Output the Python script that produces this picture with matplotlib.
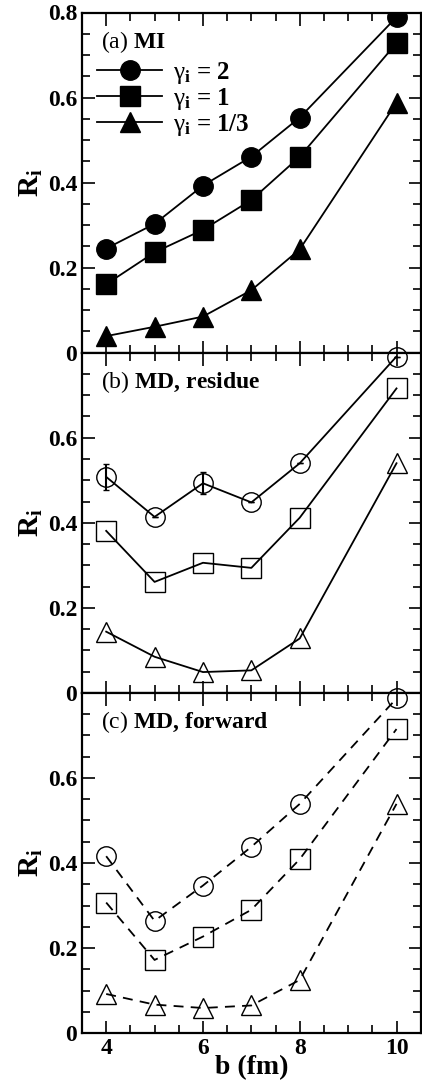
import matplotlib
matplotlib.use("Agg")
import matplotlib.pyplot as plt
from matplotlib.ticker import MultipleLocator, FixedLocator

plt.rcParams['font.family'] = ['Liberation Serif', 'DejaVu Serif']
plt.rcParams['mathtext.fontset'] = 'custom'
plt.rcParams['mathtext.rm'] = 'Liberation Serif'
plt.rcParams['mathtext.it'] = 'Liberation Serif:italic'
plt.rcParams['mathtext.bf'] = 'Liberation Serif:bold'

b = [4, 5, 6, 7, 8, 10]

# (a) MI
mi_g2 = [0.245, 0.303, 0.393, 0.461, 0.553, 0.789]
mi_g1 = [0.161, 0.236, 0.289, 0.359, 0.461, 0.728]
mi_g13 = [0.039, 0.061, 0.085, 0.147, 0.243, 0.588]

# (b) MD, residue
res_g2 = [0.508, 0.414, 0.493, 0.448, 0.540, 0.791]
res_g2_err = [0.030, 0.0, 0.026, 0.0, 0.0, 0.0]
res_g1 = [0.381, 0.261, 0.306, 0.294, 0.412, 0.716]
res_g13 = [0.144, 0.085, 0.049, 0.053, 0.128, 0.540]

# (c) MD, forward
fw_g2 = [0.416, 0.264, 0.347, 0.438, 0.539, 0.787]
fw_g1 = [0.307, 0.172, 0.227, 0.290, 0.409, 0.715]
fw_g13 = [0.092, 0.067, 0.059, 0.065, 0.125, 0.539]

legend_labels = [r'$\mathrm{\gamma}_\mathbf{i}$ = 2',
                 r'$\mathrm{\gamma}_\mathbf{i}$ = 1',
                 r'$\mathrm{\gamma}_\mathbf{i}$ = 1/3']
panel_prefix = ['(a)', '(b)', '(c)']
panel_names = ['MI', 'MD, residue', 'MD, forward']
xticks = [4, 6, 8, 10]
yticks = [0, 0.2, 0.4, 0.6, 0.8]
ytick_labels = ['0', '0.2', '0.4', '0.6', '0.8']

W, H = 422, 1086
fig = plt.figure(figsize=(W / 100, H / 100), dpi=100)

left = 82 / W
width = (420.7 - 82) / W
ph = 340.2 / H
bottoms = [(H - 352.7) / H, (H - 692.9) / H, (H - 1033.1) / H]

axes = []
for i, bt in enumerate(bottoms):
    ax = fig.add_axes([left, bt, width, ph])
    axes.append(ax)

ms = 14
lw = 1.3
ls_dash = (0, (5.5, 4))

ax = axes[0]
l1, = ax.plot(b, mi_g2, '-', color='black', marker='o', ms=ms, lw=lw, mfc='black', mec='black')
l2, = ax.plot(b, mi_g1, '-', color='black', marker='s', ms=ms, lw=lw, mfc='black', mec='black')
l3, = ax.plot(b, mi_g13, '-', color='black', marker='^', ms=ms, lw=lw, mfc='black', mec='black')
leg = ax.legend([l1, l2, l3], legend_labels, loc='upper left', bbox_to_anchor=(0.0, 0.905),
                frameon=False, prop={'size': 18, 'weight': 'bold'}, handlelength=2.6,
                handletextpad=0.45, labelspacing=0.0, borderaxespad=0.2)

ax = axes[1]
ax.errorbar(b, res_g2, yerr=res_g2_err, fmt='-', color='black', marker='o', ms=ms, lw=lw,
            mfc='none', mec='black', mew=1.0, ecolor='black', elinewidth=1.5, capsize=2.5,
            capthick=2, clip_on=False)
ax.plot(b, res_g1, '-', color='black', marker='s', ms=ms, lw=lw, mfc='none', mec='black', mew=1.0)
ax.plot(b, res_g13, '-', color='black', marker='^', ms=ms, lw=lw, mfc='none', mec='black', mew=1.0)

ax = axes[2]
ax.plot(b, fw_g2, linestyle=ls_dash, color='black', marker='o', ms=ms, lw=lw, mfc='none', mec='black', mew=1.0, clip_on=False)
ax.plot(b, fw_g1, linestyle=ls_dash, color='black', marker='s', ms=ms, lw=lw, mfc='none', mec='black', mew=1.0)
ax.plot(b, fw_g13, linestyle=ls_dash, color='black', marker='^', ms=ms, lw=lw, mfc='none', mec='black', mew=1.0)

for i, ax in enumerate(axes):
    ax.set_xlim(3.5, 10.5)
    ax.set_ylim(0, 0.8)
    ax.xaxis.set_major_locator(FixedLocator(xticks))
    ax.xaxis.set_minor_locator(MultipleLocator(0.5))
    ax.yaxis.set_major_locator(FixedLocator(yticks))
    ax.yaxis.set_minor_locator(MultipleLocator(0.05))
    ax.tick_params(which='both', direction='in', top=True, right=True, width=1.2)
    ax.tick_params(which='major', length=9)
    ax.tick_params(which='minor', length=6)
    if i == 0:
        labs = ytick_labels
    else:
        labs = ytick_labels[:-1] + ['']
    ax.set_yticklabels(labs, fontsize=17, fontweight='bold')
    for s in ax.spines.values():
        s.set_linewidth(1.6)
    if i < 2:
        ax.tick_params(labelbottom=False)
    else:
        ax.set_xticklabels([str(x) for x in xticks], fontsize=17, fontweight='bold')
        ax.set_xlabel('b (fm)', fontsize=20, fontweight='bold', labelpad=-3)
    ax.set_ylabel(r'$\mathbf{R}_\mathbf{i}$', fontsize=21, labelpad=2)
    ax.text(0.055, 0.913, r'$\mathrm{' + panel_prefix[i] + r'}$ ' + panel_names[i],
            transform=ax.transAxes, fontsize=17, fontweight='bold', ha='left', va='center')

fig.savefig('out.png', dpi=100)
